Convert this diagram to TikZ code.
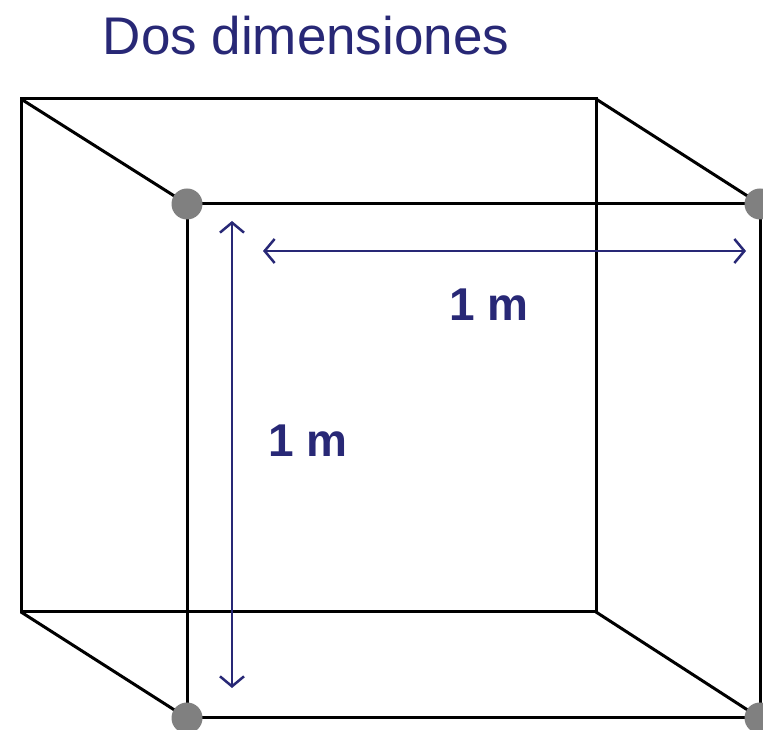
\documentclass[tikz,border=0pt]{standalone}
\usepackage{fontspec}
\setmainfont{Liberation Sans}
\usetikzlibrary{arrows.meta}
\definecolor{dimNavy}{RGB}{40,40,118}
\definecolor{dotGray}{RGB}{128,128,128}
\begin{document}
\begin{tikzpicture}[x=1pt,y=1pt,
  edge/.style={draw=black,line width=3pt},
  dim/.style={draw=dimNavy,line width=2.5pt,{Straight Barb[length=10pt,width=24pt]}-{Straight Barb[length=10pt,width=24pt]}},
  vtx/.style={circle,fill=dotGray,inner sep=0pt,minimum size=31pt},
  lbl/.style={text=dimNavy,anchor=base,font=\fontsize{46}{50}\selectfont\bfseries}]
\useasboundingbox (0,0) rectangle (763,730);
% back face
\coordinate (b1) at (21,631);
\coordinate (b2) at (596,631);
\coordinate (b3) at (596,118);
\coordinate (b4) at (21,118);
% front face
\coordinate (f1) at (187,526);
\coordinate (f2) at (760,526);
\coordinate (f3) at (760,12);
\coordinate (f4) at (187,12);
\draw[edge] (b1) -- (b2) -- (b3) -- (b4) -- cycle;
\draw[edge] (b1) -- (f1);
\draw[edge] (b2) -- (f2);
\draw[edge] (b3) -- (f3);
\draw[edge] (b4) -- (f4);
\draw[edge] (f1) -- (f2) -- (f3) -- (f4) -- cycle;
% corner dots
\node[vtx] (d1) at (f1) {};
\node[vtx] (d2) at (f2) {};
\node[vtx] (d3) at (f3) {};
\node[vtx] (d4) at (f4) {};
% dimensions
\coordinate (h1) at (263,479);
\coordinate (h2) at (746,479);
\coordinate (v1) at (232,509);
\coordinate (v2) at (232,42);
\draw[dim] (h1) -- (h2);
\draw[dim] (v1) -- (v2);
\node[lbl] (wlbl) at (489,409) {1 m};
\node[lbl] (hlbl) at (308,273) {1 m};
\node[text=dimNavy,anchor=base,font=\fontsize{53}{58}\selectfont] (title) at (306,675) {Dos dimensiones};
\end{tikzpicture}
\end{document}
